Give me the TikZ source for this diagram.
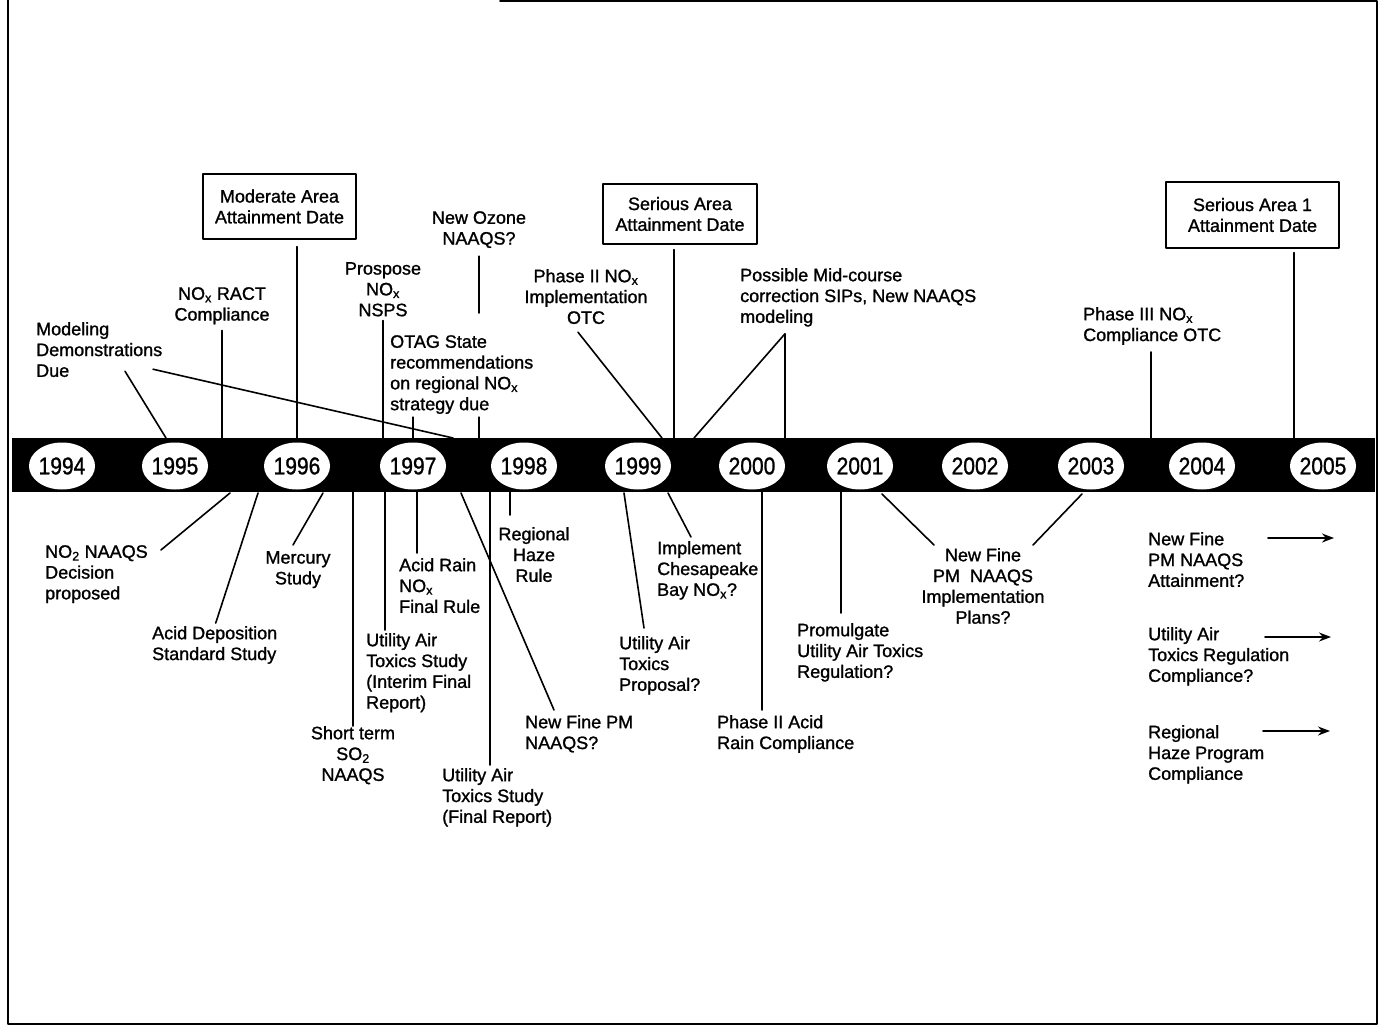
\documentclass[tikz,border=0pt]{standalone}
\usepackage{graphicx}
\usepackage{fontspec}
\setmainfont{Liberation Sans}[FakeBold=1.2]
\usetikzlibrary{arrows.meta,shapes.geometric}
\tikzset{
  lbl/.style={inner sep=0pt, align=left},
  lblc/.style={inner sep=0pt, align=center},
  datebox/.style={draw, line width=1.3pt, inner sep=0pt, align=center},
  lnk/.style={line width=1.6pt},
  arr/.style={line width=1.6pt, -{Stealth[length=12pt,width=9pt]}},
  yearmark/.style={ellipse, fill=white, minimum width=52pt, minimum height=47pt, inner sep=0pt, font=\fontsize{21}{21}\selectfont},
}
\begin{document}
\begin{tikzpicture}[x=1pt,y=-1pt,font=\fontsize{18}{20.8}\selectfont,line join=round,line cap=round]
\useasboundingbox (0,0) rectangle (1379,1027);
% frame
\draw[line width=2pt] (500,1) -- (1377,1) -- (1377,1024) -- (8,1024) -- (8,0);
% time bar and years
\node[fill=black, minimum width=1363pt, minimum height=54pt, inner sep=0pt] (bar) at (693.5,465) {};
\foreach \yr/\px in {1994/62,1995/175,1996/297,1997/413,1998/524,1999/638,2000/752,2001/860,2002/975,2003/1091,2004/1202,2005/1323}
  \node[yearmark] (y\yr) at (\px,466) {\scalebox{1}[1.15]{\yr}};
% events above the bar
\node[datebox, minimum width=153pt, minimum height=65pt] (modbox) at (279.5,206.5) {Moderate Area\\Attainment Date};
\node[datebox, minimum width=154pt, minimum height=60pt] (serbox) at (680,214) {Serious Area\\Attainment Date};
\node[datebox, minimum width=173pt, minimum height=66pt] (serboxi) at (1252.5,215) {Serious Area 1\\Attainment Date};
\node[lbl, anchor=north west] (modeling) at (36,322) {Modeling\\Demonstrations\\Due};
\node[lblc, anchor=north] (noxract) at (222,287) {NO\textsubscript{x} RACT\\Compliance};
\node[lblc, anchor=north] (nsps) at (383,262) {Prospose\\NO\textsubscript{x}\\NSPS};
\node[lblc, anchor=north] (ozone) at (479,211) {New Ozone\\NAAQS?};
\node[lbl, anchor=north west] (otag) at (390,335) {OTAG State\\recommendations\\on regional NO\textsubscript{x}\\strategy due};
\node[lblc, anchor=north] (phaseii) at (586,269) {Phase II NO\textsubscript{x}\\Implementation\\OTC};
\node[lbl, anchor=north west] (midcourse) at (740,268) {Possible Mid-course\\correction SIPs, New NAAQS\\modeling};
\node[lbl, anchor=north west] (phaseiii) at (1083,307) {Phase III NO\textsubscript{x}\\Compliance OTC};
% links above
\coordinate (modA) at (166,438);
\coordinate (modB) at (453,438);
\draw[lnk] ([xshift=89pt,yshift=6pt]modeling.south west) -- (modA);
\draw[lnk] ([xshift=117pt,yshift=8pt]modeling.south west) -- (modB);
\draw[lnk] ([yshift=-6pt]noxract.south) -- (noxract.south |- bar.north);
\path (modbox.south -| y1996) coordinate (modfoot);
\draw[lnk] ([yshift=-7pt]modfoot) -- (modfoot |- bar.north);
\draw[lnk] ([yshift=-4pt]nsps.south) -- (nsps.south |- bar.north);
\path (ozone.south |- otag.north) coordinate (ozmid);
\path (ozone.south |- otag.south) coordinate (ozlow);
\draw[lnk] ([yshift=-8pt]ozone.south) -- ([yshift=22pt]ozmid);
\draw[lnk] ([yshift=-3pt]ozlow) -- (ozlow |- bar.north);
\path (otag.south -| y1997) coordinate (otagfoot);
\draw[lnk] ([yshift=-3pt]otagfoot) -- (otagfoot |- bar.north);
\coordinate (pIIfoot) at (662,438);
\draw[lnk] ([xshift=-8pt,yshift=-8pt]phaseii.south) -- (pIIfoot);
\path ([xshift=-6pt,yshift=-5pt]serbox.south) coordinate (serfoot);
\draw[lnk] (serfoot) -- (serfoot |- bar.north);
\path ([xshift=45pt,yshift=-7pt]midcourse.south west) coordinate (midtip);
\coordinate (midfoot) at (694,438);
\draw[lnk] (midfoot) -- (midtip) -- (midtip |- bar.north);
\path ([xshift=68pt,yshift=-7pt]phaseiii.south west) coordinate (pIIIfoot);
\draw[lnk] (pIIIfoot) -- (pIIIfoot |- bar.north);
\path ([xshift=41.5pt,yshift=-4pt]serboxi.south) coordinate (serifoot);
\draw[lnk] (serifoot) -- (serifoot |- bar.north);
% events below the bar
\node[lbl, anchor=north west] (no2) at (45,545) {NO\textsubscript{2} NAAQS\\Decision\\proposed};
\node[lbl, anchor=north west] (aciddep) at (152,626) {Acid Deposition\\Standard Study};
\node[lblc, anchor=north] (mercury) at (298,551) {Mercury\\Study};
\node[lblc, anchor=north] (shortso) at (353,726) {Short term\\SO\textsubscript{2}\\NAAQS};
\node[lbl, anchor=north west] (uatinterim) at (366,633) {Utility Air\\Toxics Study\\(Interim Final\\Report)};
\node[lbl, anchor=north west] (acidrain) at (399,558) {Acid Rain\\NO\textsubscript{x}\\Final Rule};
\node[lblc, anchor=north] (haze) at (534,527) {Regional\\Haze\\Rule};
\node[lbl, anchor=north west] (uatfinal) at (442,768) {Utility Air\\Toxics Study\\(Final Report)};
\node[lbl, anchor=north west] (pmnaaqs) at (525,715) {New Fine PM\\NAAQS?};
\node[lbl, anchor=north west] (uatprop) at (619,636) {Utility Air\\Toxics\\Proposal?};
\node[lbl, anchor=north west] (chesa) at (657,541) {Implement\\Chesapeake\\Bay NO\textsubscript{x}?};
\node[lbl, anchor=north west] (acidii) at (717,715) {Phase II Acid\\Rain Compliance};
\node[lbl, anchor=north west] (promul) at (797,623) {Promulgate\\Utility Air Toxics\\Regulation?};
\node[lblc, anchor=north] (pmplans) at (983,548) {New Fine\\PM\ \ NAAQS\\Implementation\\Plans?};
\node[lbl, anchor=north west] (pmattain) at (1148,532) {New Fine\\PM NAAQS\\Attainment?};
\node[lbl, anchor=north west] (uatcomp) at (1148,627) {Utility Air\\Toxics Regulation\\Compliance?};
\node[lbl, anchor=north west] (hazecomp) at (1148,725) {Regional\\Haze Program\\Compliance};
% links below
\coordinate (no2foot) at (230,493);
\draw[lnk] ([xshift=13pt,yshift=-5pt]no2.north east) -- (no2foot);
\coordinate (adfoot) at (258,493);
\draw[lnk] ([xshift=1pt,yshift=3pt]aciddep.north) -- (adfoot);
\coordinate (merfoot) at (323,493);
\draw[lnk] ([xshift=-5pt,yshift=6pt]mercury.north) -- (merfoot);
\draw[lnk] (shortso.north) -- (shortso.north |- bar.south);
\path ([xshift=19pt,yshift=3pt]uatinterim.north west) coordinate (uiint);
\draw[lnk] (uiint) -- (uiint |- bar.south);
\path ([xshift=18pt,yshift=5pt]acidrain.north west) coordinate (arnox);
\draw[lnk] (arnox) -- (arnox |- bar.south);
\coordinate (pmfoot) at (461,493);
\draw[lnk] ([xshift=29pt,yshift=5pt]pmnaaqs.north west) -- (pmfoot);
\path ([xshift=48pt,yshift=3pt]uatfinal.north west) coordinate (uifin);
\draw[lnk] (uifin) -- (uifin |- bar.south);
\path ([xshift=-24pt,yshift=12pt]haze.north) coordinate (hazetick);
\draw[lnk] (hazetick) -- (hazetick |- bar.south);
\coordinate (propfoot) at (624,493);
\draw[lnk] ([xshift=25pt,yshift=8pt]uatprop.north west) -- (propfoot);
\coordinate (chesfoot) at (668,493);
\draw[lnk] ([xshift=34pt,yshift=4pt]chesa.north west) -- (chesfoot);
\path ([xshift=45pt,yshift=5pt]acidii.north west) coordinate (aciiline);
\draw[lnk] (aciiline) -- (aciiline |- bar.south);
\path ([xshift=44pt,yshift=10pt]promul.north west) coordinate (promline);
\draw[lnk] (promline) -- (promline |- bar.south);
\coordinate (plansA) at (882,494);
\coordinate (plansB) at (1082,494);
\draw[lnk] ([xshift=-49pt,yshift=3pt]pmplans.north) -- (plansA);
\draw[lnk] ([xshift=50pt,yshift=3pt]pmplans.north) -- (plansB);
% continuing programmes
\coordinate (pmtip) at (1334,538);
\draw[arr] ([xshift=120pt,yshift=-6pt]pmattain.north west) -- (pmtip);
\coordinate (uattip) at (1331,637);
\draw[arr] ([xshift=117pt,yshift=-10pt]uatcomp.north west) -- (uattip);
\coordinate (hazetip) at (1330,731);
\draw[arr] ([xshift=115pt,yshift=-6pt]hazecomp.north west) -- (hazetip);
\end{tikzpicture}
\end{document}
